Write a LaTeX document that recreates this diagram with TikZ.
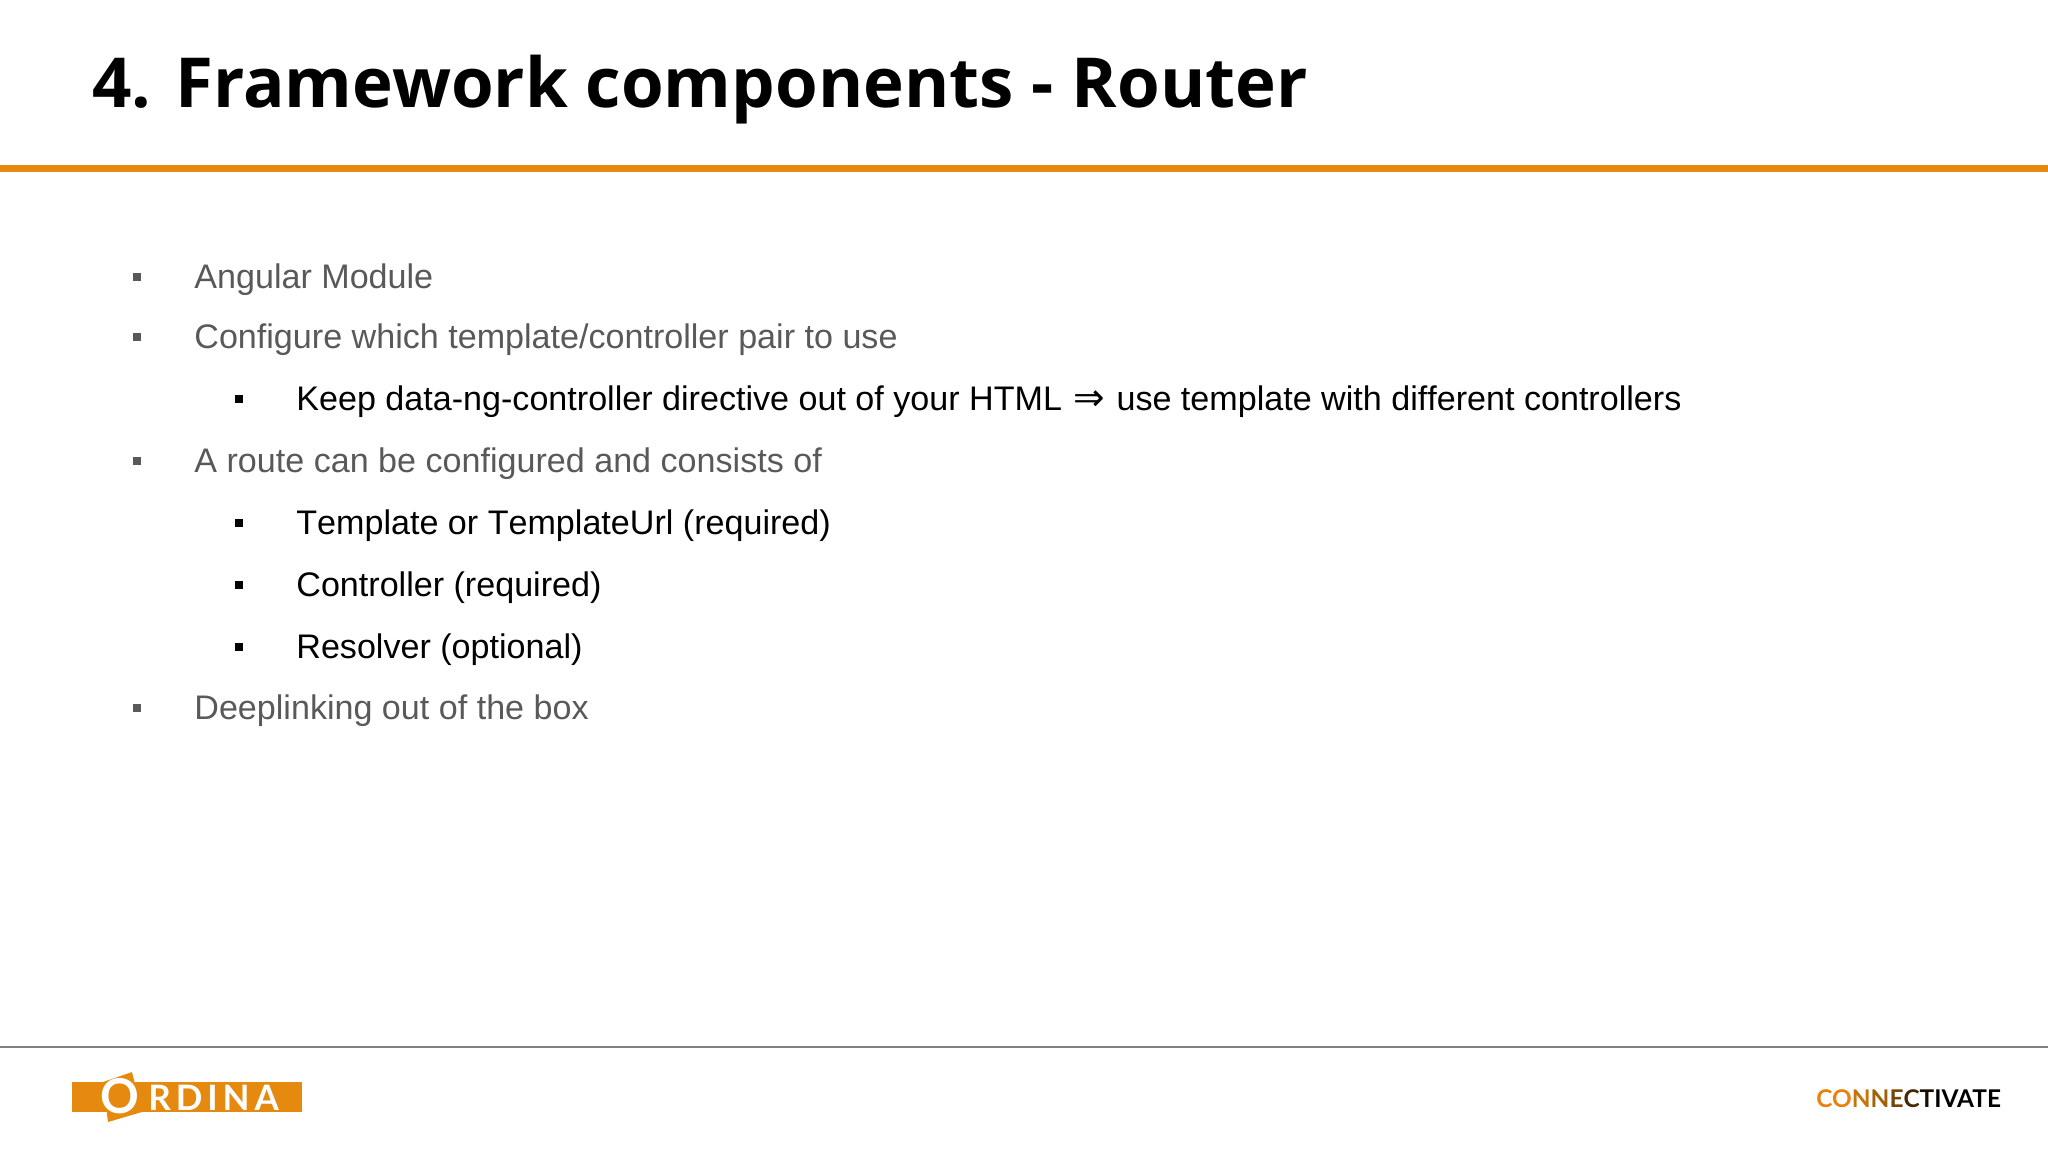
\documentclass[tikz,border=0pt]{standalone}
\usepackage{fontspec}
\setmainfont[Kerning=Off]{Liberation Sans}
\newfontfamily\titlefont{Open Sans}
\newfontfamily\logofont[LetterSpace=14]{Lato}
\newfontfamily\brandfont{Lato}
\newfontfamily\symbolfont{DejaVu Sans}
\usetikzlibrary{positioning}
\definecolor{ordinaorange}{HTML}{E6890F}
\definecolor{bodygray}{HTML}{595959}
\tikzset{
	slidetitle/.style = {
		anchor = base west,
		inner sep = 0pt,
		font = \titlefont\bfseries\fontsize{34.5}{35}\selectfont
	},
	item/.style = {
		anchor = base west,
		inner sep = 0pt,
		text = bodygray,
		font = \fontsize{17.05}{20}\selectfont
	},
	subitem/.style = {item, text = black},
	bullet/.style = {
		fill = bodygray,
		minimum size = 4pt,
		inner sep = 0pt
	},
	subbullet/.style = {bullet, fill = black},
	logotext/.style = {
		anchor = base west,
		inner sep = 0pt,
		text = white
	}
}
\begin{document}
\begin{tikzpicture}[x = 0.5pt, y = -0.5pt]
	\useasboundingbox (0,0) rectangle (2048,1152);
	% title and rules
	\node(title) [slidetitle] at (92,107) {4. Framework components - Router};
	\fill[ordinaorange] (0,165) rectangle (2048,172);
	\draw[gray, line width = 0.8pt] (0,1047) -- (2048,1047);
	% first level items
	\node(angular) [item] at (194,288) {Angular Module};
	\node(configure) [item] at (194,348) {Configure which template/controller pair to use};
	\node(route) [item] at (194,472) {A route can be configured and consists of};
	\node(deeplink) [item] at (194,719) {Deeplinking out of the box};
	% second level items
	\node(keep) [subitem] at (296,410) {Keep data-ng-controller directive out of your HTML\hspace{1pt} {\symbolfont\fontsize{18.8}{20}\selectfont ⇒}\hspace{1pt} use template with different controllers};
	\node(template) [subitem] at (296,534) {Template or TemplateUrl (required)};
	\node(controller) [subitem] at (296,596) {Controller (required)};
	\node(resolver) [subitem] at (296,658) {Resolver (optional)};
	% bullets
	\foreach \i in {angular,configure,route,deeplink}
		\node[bullet] (b-\i) at ([xshift=-28.5pt,yshift=5.5pt]\i.base west) {};
	\foreach \i in {keep,template,controller,resolver}
		\node[subbullet] (b-\i) at ([xshift=-28.5pt,yshift=5.5pt]\i.base west) {};
	% ordina logo
	\fill[ordinaorange] (72,1082) rectangle (302,1112);
	\fill[ordinaorange] (103,1082) -- (132,1072) -- (142,1112) -- (108,1122) -- cycle;
	\node(ordinaO) [logotext, font = \brandfont\bfseries\fontsize{24}{24}\selectfont] at (100,1113) {O};
	\node(ordina) [logotext, font = \logofont\bfseries\fontsize{17.5}{18}\selectfont] at (148,1110) {RDINA};
	% connectivate logo
	\node(connectivate) [anchor = base west, inner sep = 0pt, font = \brandfont\bfseries\fontsize{12.2}{14}\selectfont] at (1816,1107)
	{\textcolor{ordinaorange!95!red}{CO}\textcolor{ordinaorange!85!black}{N}\textcolor{ordinaorange!70!black}{N}\textcolor{ordinaorange!50!black}{E}\textcolor{ordinaorange!30!black}{C}\textcolor{ordinaorange!10!black}{T}\textcolor{black}{IVATE}};
\end{tikzpicture}
\end{document}
